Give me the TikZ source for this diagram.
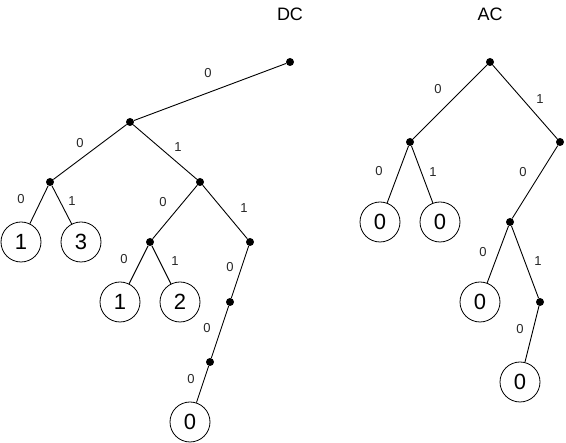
\documentclass[tikz,border=0pt]{standalone}
\usepackage{fontspec}
\setmainfont{Liberation Sans}
\begin{document}
\begin{tikzpicture}[x=1pt,y=-1pt,
  dot/.style={circle,fill=black,inner sep=0pt,minimum size=8pt},
  leaf/.style={circle,draw,line width=0.8pt,inner sep=0pt,minimum size=40pt,font=\fontsize{22}{22}\selectfont},
  lbl/.style={font=\fontsize{13}{13}\selectfont,text=black!85},
  ttl/.style={font=\fontsize{18}{18}\selectfont},
  edge/.style={draw,line width=0.9pt}]
\useasboundingbox (0,0) rectangle (566,443);
% DC tree
\node[ttl] (dc) at (290,14) {DC};
\node[dot] (r) at (290,62) {};
\node[dot] (a) at (130,122) {};
\node[dot] (b) at (50,182) {};
\node[dot] (c) at (200,182) {};
\node[leaf] (l1) at (21,242) {1};
\node[leaf] (l3) at (81,242) {3};
\node[dot] (d) at (150,242) {};
\node[dot] (e) at (250,242) {};
\node[leaf] (l1b) at (120,302) {1};
\node[leaf] (l2) at (180,302) {2};
\node[dot] (f) at (230,302) {};
\node[dot] (g) at (210,362) {};
\node[leaf] (l0) at (190,422) {0};
\draw[edge] (r) -- (a);
\draw[edge] (a) -- (b);
\draw[edge] (a) -- (c);
\draw[edge] (b) -- (l1);
\draw[edge] (b) -- (l3);
\draw[edge] (c) -- (d);
\draw[edge] (c) -- (e);
\draw[edge] (d) -- (l1b);
\draw[edge] (d) -- (l2);
\draw[edge] (e) -- (f);
\draw[edge] (f) -- (g);
\draw[edge] (g) -- (l0);
\node[lbl] (t1) at (208,73) {0};
\node[lbl] (t2) at (80,143) {0};
\node[lbl] (t3) at (178,147) {1};
\node[lbl] (t4) at (21,199) {0};
\node[lbl] (t5) at (72,201) {1};
\node[lbl] (t6) at (163,202) {0};
\node[lbl] (t7) at (244,208) {1};
\node[lbl] (t8) at (124,259) {0};
\node[lbl] (t9) at (175,261) {1};
\node[lbl] (t10) at (230,267) {0};
\node[lbl] (t11) at (207,328) {0};
\node[lbl] (t12) at (191,379) {0};
% AC tree
\node[ttl] (ac) at (490,14) {AC};
\node[dot] (R) at (490,62) {};
\node[dot] (A) at (410,142) {};
\node[dot] (B) at (560,142) {};
\node[leaf] (L1) at (380,222) {0};
\node[leaf] (L2) at (440,222) {0};
\node[dot] (C) at (510,222) {};
\node[leaf] (L3) at (480,302) {0};
\node[dot] (D) at (540,302) {};
\node[leaf] (L4) at (520,382) {0};
\draw[edge] (R) -- (A);
\draw[edge] (R) -- (B);
\draw[edge] (A) -- (L1);
\draw[edge] (A) -- (L2);
\draw[edge] (B) -- (C);
\draw[edge] (C) -- (L3);
\draw[edge] (C) -- (D);
\draw[edge] (D) -- (L4);
\node[lbl] (T1) at (438,89) {0};
\node[lbl] (T2) at (540,99) {1};
\node[lbl] (T3) at (379,171) {0};
\node[lbl] (T4) at (433,172) {1};
\node[lbl] (T5) at (523,172) {0};
\node[lbl] (T6) at (483,252) {0};
\node[lbl] (T7) at (538,261) {1};
\node[lbl] (T8) at (520,329) {0};
\end{tikzpicture}
\end{document}
